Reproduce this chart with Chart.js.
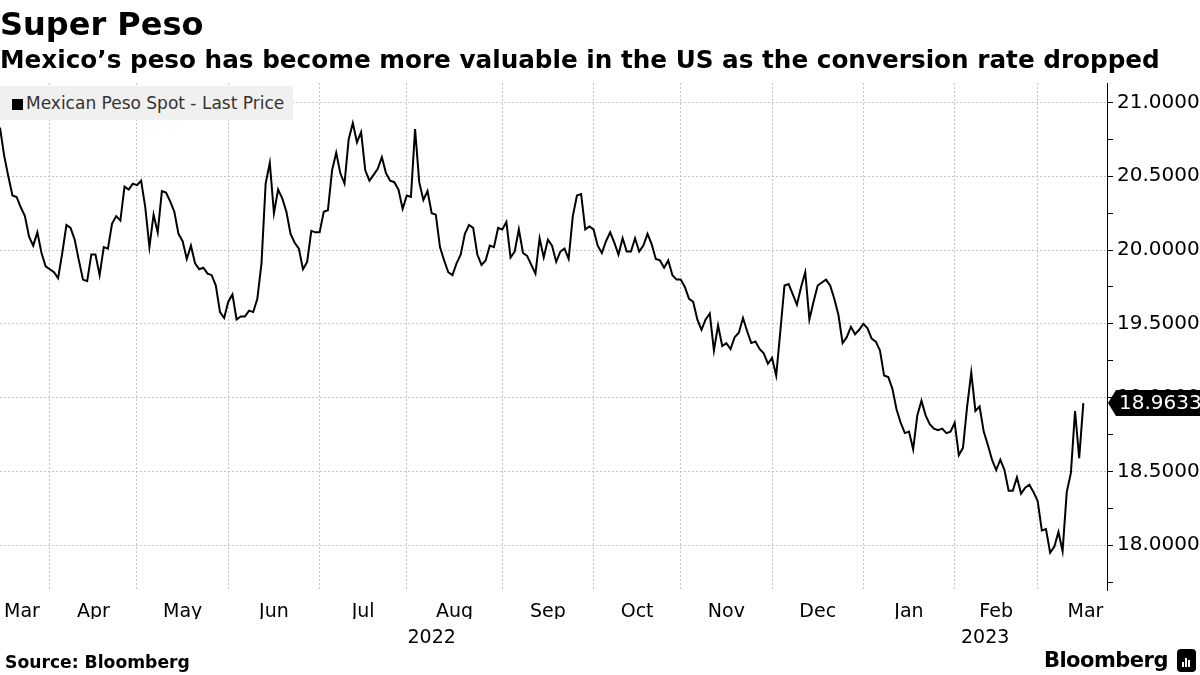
<!DOCTYPE html>
<html>
<head>
<meta charset="utf-8">
<script src="https://cdn.jsdelivr.net/npm/chart.js@4.4.0/dist/chart.umd.min.js"></script>
<style>
  body { margin: 0; background: #fff; }
  #wrap { position: relative; width: 1200px; height: 675px; overflow: hidden; }
  canvas { position: absolute; left: 0; top: 0; }
  #title { position: absolute; left: 0; top: 8px; font: bold 32px "DejaVu Sans"; line-height: 32px; color: #000; }
  #subtitle { position: absolute; left: 0; top: 47px; font: bold 24.7px "DejaVu Sans"; line-height: 25px; color: #000; white-space: nowrap; }
  #legend { position: absolute; left: 0; top: 86px; width: 293px; height: 34px; background: #f0f0f0;
            font: 17px "DejaVu Sans"; color: #333; line-height: 34px; white-space: nowrap; }
  #legend .sq { display: inline-block; width: 11px; height: 11px; background: #000; margin: 0 3px 0 12px; vertical-align: -1px; }
  #source { position: absolute; left: 5px; top: 653px; font: bold 17.2px "DejaVu Sans"; line-height: 19px; }
  #brand { position: absolute; right: 32px; top: 648px; font: bold 21px "DejaVu Sans"; line-height: 24px; letter-spacing: -0.5px; }
  #logo { position: absolute; left: 1177px; top: 649px; width: 19px; height: 23px; background: #000; border-radius: 4px; }
  #logo i { position: absolute; bottom: 5px; width: 2px; background: #fff; }
</style>
</head>
<body>
<div id="wrap">
  <canvas id="chart" width="1200" height="675"></canvas>
  <div id="title">Super Peso</div>
  <div id="subtitle">Mexico’s peso has become more valuable in the US as the conversion rate dropped</div>
  <div id="legend"><span class="sq"></span>Mexican Peso Spot - Last Price</div>
  <div id="source">Source: Bloomberg</div>
  <div id="brand">Bloomberg</div>
  <div id="logo"><i style="left:5px;height:5px"></i><i style="left:8px;height:9px"></i><i style="left:11px;height:7px"></i></div>
</div>
<script>
// first trading day shown, and the day the weekday calendar is counted from
const calendarStart = '2022-03-01';
const firstDay = '2022-03-16';
const calendarEnd = '2023-03-31';

// USD/MXN daily close, one value per weekday from 2022-03-16
const values = [
  // Mar 2022 (from 16th)
  20.83, 20.64, 20.50, 20.37, 20.36, 20.29, 20.23, 20.09, 20.03, 20.12, 19.98, 19.89,
  // Apr
  19.87, 19.85, 19.81, 19.98, 20.17, 20.15, 20.07, 19.93, 19.80, 19.79, 19.97, 19.97,
  19.83, 20.02, 20.01, 20.18, 20.23, 20.20, 20.43, 20.41, 20.45,
  // May
  20.44, 20.47, 20.29, 20.02, 20.24, 20.12, 20.40, 20.39, 20.33, 20.26, 20.11, 20.06,
  19.94, 20.03, 19.91, 19.87, 19.88, 19.84, 19.83, 19.76, 19.58, 19.54,
  // Jun
  19.65, 19.70, 19.53, 19.55, 19.55, 19.59, 19.58, 19.67, 19.91, 20.45, 20.59, 20.25,
  20.41, 20.35, 20.26, 20.11, 20.05, 20.01, 19.87, 19.92, 20.13, 20.12,
  // Jul
  20.12, 20.26, 20.27, 20.54, 20.66, 20.52, 20.45, 20.75, 20.86, 20.73, 20.80, 20.54,
  20.47, 20.51, 20.55, 20.63, 20.52, 20.47, 20.46, 20.41, 20.28,
  // Aug
  20.37, 20.36, 20.82, 20.46, 20.34, 20.40, 20.25, 20.24, 20.02, 19.93, 19.85, 19.83,
  19.91, 19.97, 20.11, 20.17, 20.15, 19.97, 19.90, 19.93, 20.03, 20.02, 20.15,
  // Sep
  20.14, 20.19, 19.95, 19.99, 20.14, 19.98, 19.96, 19.90, 19.84, 20.08, 19.95, 20.07,
  20.03, 19.92, 19.99, 20.01, 19.94, 20.23, 20.37, 20.38, 20.14, 20.16,
  // Oct
  20.14, 20.03, 19.98, 20.06, 20.12, 20.05, 19.97, 20.08, 19.99, 19.99, 20.08, 19.99,
  20.03, 20.11, 20.04, 19.94, 19.93, 19.88, 19.93, 19.83, 19.80,
  // Nov
  19.80, 19.75, 19.67, 19.65, 19.53, 19.46, 19.53, 19.57, 19.32, 19.49, 19.35, 19.37,
  19.33, 19.41, 19.44, 19.54, 19.45, 19.37, 19.38, 19.33, 19.30, 19.23,
  // Dec
  19.27, 19.15, 19.45, 19.76, 19.77, 19.70, 19.63, 19.75, 19.85, 19.53, 19.65, 19.76,
  19.78, 19.80, 19.76, 19.67, 19.56, 19.37, 19.41, 19.48, 19.43, 19.46,
  // Jan 2023
  19.50, 19.47, 19.40, 19.38, 19.32, 19.15, 19.14, 19.06, 18.92, 18.83, 18.76, 18.77,
  18.65, 18.88, 18.98, 18.88, 18.82, 18.79, 18.78, 18.79, 18.76, 18.77,
  // Feb
  18.83, 18.61, 18.66, 18.94, 19.17, 18.91, 18.94, 18.77, 18.68, 18.58, 18.51, 18.58,
  18.51, 18.37, 18.37, 18.46, 18.35, 18.39, 18.41, 18.36,
  // Mar (to 16th)
  18.30, 18.10, 18.11, 17.95, 17.99, 18.09, 17.96, 18.36, 18.49, 18.91, 18.59, 18.9633
];

const monthNames = ['Jan', 'Feb', 'Mar', 'Apr', 'May', 'Jun', 'Jul', 'Aug', 'Sep', 'Oct', 'Nov', 'Dec'];
const yTicks = [17.75, 18, 18.25, 18.5, 18.75, 19, 19.25, 19.5, 19.75, 20, 20.25, 20.5, 20.75, 21];
const yMin = 17.697;
const yMax = 21.132;
const xMax = 266.7; // weekdays after firstDay where the plot ends

// weekday calendar -> index positions
const days = [];
for (let d = new Date(calendarStart + 'T12:00:00Z'); d <= new Date(calendarEnd + 'T12:00:00Z'); d.setUTCDate(d.getUTCDate() + 1)) {
  const wd = d.getUTCDay();
  if (wd !== 0 && wd !== 6) days.push(new Date(d));
}
const offset = days.findIndex(d => d.toISOString().slice(0, 10) === firstDay);
const months = [];
days.forEach((d, i) => {
  const k = i - offset;
  const m = d.getUTCMonth(), yr = d.getUTCFullYear();
  const last = months[months.length - 1];
  if (!last || last.m !== m) months.push({ m, yr, start: k, end: k + 1 });
  else last.end = k + 1;
});
const monthStarts = months.map(o => o.start).filter(k => k > 0 && k < xMax);
const monthMids = months.map(o => Math.max((o.start + o.end) / 2, 5.3)).filter(k => k < xMax);
const monthLabels = months.filter(o => (o.start + o.end) / 2 < xMax).map(o => monthNames[o.m]);
const years = [...new Set(months.map(o => o.yr))];
const yearMids = years.map(yr => {
  const ms = months.filter(o => o.yr === yr);
  const a = Math.max(ms[0].start, 0), b = Math.min(ms[ms.length - 1].end, xMax);
  return (a + b) / 2;
});

const isMajor = v => Math.abs(v * 2 - Math.round(v * 2)) < 1e-6;
const font = { family: 'DejaVu Sans', size: 19 };

const lastTag = {
  id: 'lastTag',
  afterDraw(chart) {
    const { ctx, scales: { y } } = chart;
    const v = values[values.length - 1];
    const py = y.getPixelForValue(v);
    const x0 = y.left + 1;
    ctx.save();
    ctx.fillStyle = '#000';
    ctx.beginPath();
    ctx.moveTo(x0, py);
    ctx.lineTo(x0 + 8, py - 13);
    ctx.lineTo(chart.width, py - 13);
    ctx.lineTo(chart.width, py + 13);
    ctx.lineTo(x0 + 8, py + 13);
    ctx.closePath();
    ctx.fill();
    ctx.fillStyle = '#fff';
    ctx.font = '20px "DejaVu Sans"';
    ctx.textBaseline = 'middle';
    ctx.fillText(v.toFixed(4), x0 + 11, py + 1);
    ctx.restore();
  }
};

new Chart(document.getElementById('chart'), {
  type: 'line',
  data: {
    datasets: [{
      label: 'Mexican Peso Spot - Last Price',
      data: values.map((v, i) => ({ x: i, y: v })),
      borderColor: '#000',
      borderWidth: 2,
      pointRadius: 0,
      tension: 0,
      xAxisID: 'x',
      yAxisID: 'y'
    }]
  },
  options: {
    responsive: false,
    animation: false,
    devicePixelRatio: 1,
    layout: { padding: { top: 83, left: 0, right: 0, bottom: 0 } },
    plugins: { legend: { display: false }, tooltip: { enabled: false } },
    scales: {
      xg: {
        type: 'linear', position: 'bottom', weight: 0, min: 0, max: xMax,
        afterBuildTicks: s => { s.ticks = monthStarts.map(v => ({ value: v })); },
        afterFit: s => { s.height = 0; },
        grid: { drawOnChartArea: true, drawTicks: false, color: '#c4c4c4', lineWidth: 1 },
        border: { display: false, dash: [2, 2] },
        ticks: { display: false }
      },
      x: {
        type: 'linear', position: 'bottom', weight: 1, min: 0, max: xMax,
        afterBuildTicks: s => { s.ticks = monthMids.map(v => ({ value: v })); },
        afterFit: s => { s.height = 29; },
        grid: { display: false },
        border: { display: false },
        ticks: { autoSkip: false, maxRotation: 0, minRotation: 0, padding: 3, font, color: '#000',
                 callback: (v, i) => monthLabels[i] }
      },
      xy: {
        type: 'linear', position: 'bottom', weight: 2, min: 0, max: xMax,
        afterBuildTicks: s => { s.ticks = yearMids.map(v => ({ value: v })); },
        afterFit: s => { s.height = 56; },
        grid: { display: false },
        border: { display: false },
        ticks: { autoSkip: false, maxRotation: 0, padding: 0, font, color: '#000',
                 callback: (v, i) => String(years[i]) }
      },
      y: {
        type: 'linear', position: 'right', min: yMin, max: yMax,
        afterBuildTicks: s => { s.ticks = yTicks.map(v => ({ value: v })); },
        afterFit: s => { s.width = 93; },
        grid: { color: c => isMajor(c.tick.value) ? '#c4c4c4' : 'rgba(0,0,0,0)', tickColor: '#000', tickLength: 6, lineWidth: 1 },
        border: { display: true, color: '#000', width: 1, dash: [2, 2] },
        ticks: { font: { family: 'DejaVu Sans', size: 20 }, color: '#000', padding: 4,
                 callback: v => isMajor(v) ? v.toFixed(4) : '' }
      }
    }
  },
  plugins: [lastTag]
});
</script>
</body>
</html>
